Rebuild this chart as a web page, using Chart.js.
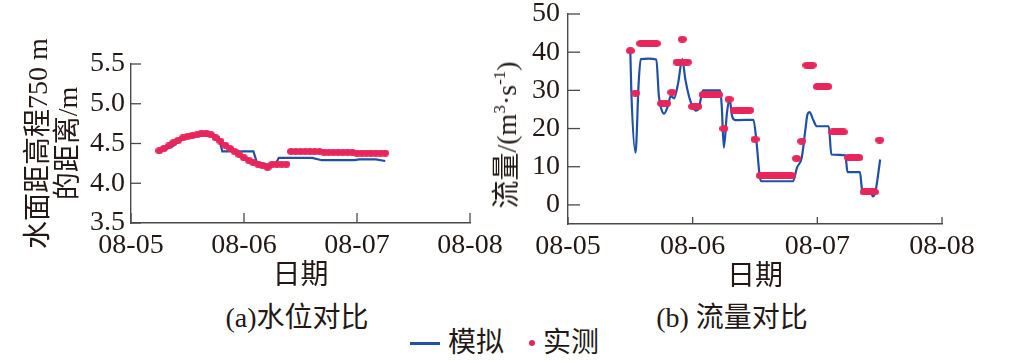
<!DOCTYPE html>
<html>
<head>
<meta charset="utf-8">
<script src="https://cdn.jsdelivr.net/npm/chart.js@4.4.1/dist/chart.umd.min.js"></script>
<style>
  html, body { margin: 0; padding: 0; background: #ffffff; }
  body { width: 1029px; height: 363px; position: relative; overflow: hidden; }
  canvas { position: absolute; top: 0; }
  #cLevel { left: 0; }
  #cFlow { left: 480px; }
  .txt { position: absolute; font-family: "Liberation Serif", "Noto Sans CJK SC", serif; font-size: 28px; color: #231815; white-space: nowrap; line-height: 1; }
  .ctr { transform: translate(-50%, -50%); }
  #flowTitle { left: 507px; top: 135px; transform: translate(-50%, -50%) rotate(-90deg); }
  #flowTitle sup { font-size: 17px; vertical-align: 11px; line-height: 0; }
  .legLine { position: absolute; left: 410px; top: 342px; width: 30px; height: 2.5px; background: #1f50a5; }
  .legDot { position: absolute; left: 529px; top: 340px; width: 6px; height: 6px; border-radius: 50%; background: #e8265c; }
</style>
</head>
<body>
<canvas id="cLevel" width="520" height="300"></canvas>
<canvas id="cFlow" width="549" height="300"></canvas>
<div class="txt" id="flowTitle">流量/(m<sup>3</sup>·s<sup>-1</sup>)</div>
<div class="txt ctr" style="left:297px; top:318px;">(a)水位对比</div>
<div class="txt ctr" style="left:732px; top:318px;">(b) 流量对比</div>
<div class="legLine"></div>
<div class="txt" style="left:448px; top:329px;">模拟</div>
<div class="legDot"></div>
<div class="txt" style="left:543px; top:329px;">实测</div>
<script>
// ---------- data ----------
const dateTickValues = [0, 1, 2, 3];                 // days after 08-05 00:00
const dateTickLabels = ['08-05', '08-06', '08-07', '08-08'];
const levelTicks = [3.5, 4.0, 4.5, 5.0, 5.5];
const flowTicks = [0, 10, 20, 30, 40, 50];

// (a) water level — hours after 08-05 00:00
const levelSimHours  = [6, 7.5, 9, 10, 11, 12, 13, 17.8, 18.6, 19.4, 26, 26.7, 28, 30.6, 31.4, 38.5, 40.5, 47.5, 48.5, 52, 54];
const levelSimValues = [4.42, 4.43, 4.47, 4.52, 4.56, 4.59, 4.60, 4.60, 4.58, 4.40, 4.40, 4.27, 4.24, 4.23, 4.32, 4.32, 4.29, 4.29, 4.30, 4.30, 4.28];
const levelObsHours  = [6, 7, 8, 9, 10, 11, 12, 13, 14, 15, 16, 17, 18, 19, 20, 21, 22, 23, 24, 25, 26, 27, 28, 29, 30, 31, 32, 33,
                        34, 35, 36, 37, 38, 39, 40, 41, 42, 43, 44, 45, 46, 47, 48, 49, 50, 51, 52, 53, 54];
const levelObsValues = [4.41, 4.44, 4.47, 4.51, 4.54, 4.57, 4.59, 4.60, 4.61, 4.63, 4.63, 4.61, 4.57, 4.53, 4.48, 4.44, 4.40, 4.36, 4.32, 4.29, 4.26, 4.24, 4.22, 4.20, 4.24, 4.24, 4.24, 4.24,
                        4.40, 4.40, 4.40, 4.40, 4.40, 4.40, 4.40, 4.39, 4.39, 4.39, 4.39, 4.39, 4.39, 4.39, 4.38, 4.38, 4.38, 4.38, 4.38, 4.38, 4.38];

// (b) discharge — hours after 08-05 00:00
const flowSimHours  = [12, 12.2, 13.0, 13.6, 14.0, 15.5, 17.0, 17.5, 18.0, 18.5, 19.2, 19.8, 20.4, 21.2, 22.0, 22.6, 23.3, 23.9, 24.6, 25.1,
                       25.6, 26.0, 29.3, 29.6, 30.0, 30.6, 31.1, 31.6, 32.2, 35.7, 36.3, 36.9, 37.2, 43.3, 44.1, 45.0, 45.7, 46.1, 46.5, 47.2,
                       47.9, 50.2, 50.7, 53.4, 53.8, 56.2, 56.6, 57.0, 58.2, 58.7, 59.2, 60.1];
const flowSimValues = [40.2, 29.3, 13.7, 31.9, 38.2, 38.3, 38.1, 28.4, 25.0, 23.9, 25.8, 28.6, 27.9, 31.9, 38.2, 32.8, 28.4, 26.0, 24.7, 25.0,
                       28.0, 30.0, 30.0, 25.8, 15.0, 24.1, 27.7, 23.2, 22.2, 22.3, 16.3, 7.6, 6.2, 6.2, 9.8, 12.4, 19.7, 23.7, 24.3, 22.3,
                       20.6, 20.6, 13.2, 13.0, 8.6, 8.6, 4.1, 3.4, 3.4, 2.2, 3.6, 11.9];
const flowObsHours  = [12, 13, 14, 14.5, 15, 15.5, 16, 16.5, 17, 18, 18.5, 19, 20, 21, 21.5, 22, 22.5, 23, 24, 24.5, 25,
                       26, 26.5, 27, 27.5, 28, 28.5, 29, 30, 31, 32, 32.5, 33, 33.5, 34, 34.5, 35, 36,
                       37, 37.5, 38, 38.5, 39, 39.5, 40, 40.5, 41, 41.5, 42, 42.5, 43, 44, 45, 46, 46.5, 47,
                       48, 48.5, 49, 49.5, 50, 51, 51.5, 52, 52.5, 53, 54, 54.5, 55, 55.5, 56, 57, 57.5, 58, 58.5, 59, 60];
const flowObsValues = [40.4, 29.3, 42.3, 42.3, 42.3, 42.3, 42.3, 42.3, 42.3, 26.6, 26.6, 26.6, 29.5, 37.4, 37.4, 43.4, 37.4, 37.4, 25.8, 25.8, 25.8,
                       28.9, 28.9, 28.9, 28.9, 28.9, 28.9, 28.9, 20.0, 27.7, 24.8, 24.8, 24.8, 24.8, 24.8, 24.8, 24.8, 17.2,
                       7.7, 7.7, 7.7, 7.7, 7.7, 7.7, 7.7, 7.7, 7.7, 7.7, 7.7, 7.7, 7.7, 12.2, 16.7, 36.6, 36.6, 36.6,
                       31.0, 31.0, 31.0, 31.0, 31.0, 19.1, 19.1, 19.1, 19.1, 19.1, 12.4, 12.4, 12.4, 12.4, 12.4, 3.4, 3.4, 3.4, 3.4, 3.4, 17.0];

// ---------- styling ----------
const SIM_COLOR = '#1f50a5';
const OBS_COLOR = '#e8265c';
const AXIS_COLOR = '#4a4a4a';
const TEXT_COLOR = '#231815';
const FONT_FAMILY = '"Liberation Serif", "Noto Sans CJK SC", serif';

function toPoints(hours, values) {
  return hours.map((h, i) => ({ x: h / 24, y: values[i] }));
}

// slightly flattened dot marker, as in the printed figure
function ellipseMarker(w, h) {
  const c = document.createElement('canvas');
  c.width = w; c.height = h;
  const g = c.getContext('2d');
  g.fillStyle = OBS_COLOR;
  g.beginPath();
  g.ellipse(w / 2, h / 2, w / 2, h / 2, 0, 0, Math.PI * 2);
  g.fill();
  return c;
}

const inwardTicks = {
  id: 'inwardTicks',
  afterDraw(chart, args, opts) {
    const { ctx, chartArea, scales } = chart;
    ctx.save();
    ctx.strokeStyle = AXIS_COLOR;
    ctx.lineWidth = 1.3;
    scales.x.ticks.forEach(t => {
      const px = scales.x.getPixelForValue(t.value);
      ctx.beginPath();
      ctx.moveTo(px, chartArea.bottom);
      ctx.lineTo(px, chartArea.bottom - opts.xLen);
      ctx.stroke();
    });
    scales.y.ticks.forEach(t => {
      const py = scales.y.getPixelForValue(t.value);
      ctx.beginPath();
      ctx.moveTo(chartArea.left, py);
      ctx.lineTo(chartArea.left + opts.yLen, py);
      ctx.stroke();
    });
    ctx.restore();
  }
};

function makeChart(canvasId, cfg) {
  return new Chart(document.getElementById(canvasId), {
    type: 'line',
    data: {
      datasets: [
        {
          label: '模拟', data: cfg.sim, borderColor: SIM_COLOR, borderWidth: 2.2,
          pointRadius: 0, fill: false, order: 1,
          tension: cfg.smooth ? 0.4 : 0, cubicInterpolationMode: cfg.smooth ? 'monotone' : 'default'
        },
        {
          label: '实测', data: cfg.obs, showLine: false, pointRadius: 4, pointBorderWidth: 0,
          pointStyle: cfg.marker,
          pointBackgroundColor: OBS_COLOR, pointBorderColor: OBS_COLOR, order: 0
        }
      ]
    },
    options: {
      responsive: false, animation: false, events: [],
      layout: { padding: cfg.padding },
      plugins: { legend: { display: false }, tooltip: { enabled: false }, inwardTicks: cfg.tickLens },
      scales: {
        x: {
          type: 'linear', min: 0, max: 3,
          grid: { display: false, drawTicks: false },
          border: { display: true, color: AXIS_COLOR, width: 1.4 },
          afterBuildTicks: s => { s.ticks = dateTickValues.map(v => ({ value: v })); },
          afterFit: s => { s.height = cfg.xHeight; s.paddingLeft = 0; s.paddingRight = 0; },
          ticks: {
            autoSkip: false, maxRotation: 0, padding: 6, color: TEXT_COLOR,
            font: { family: FONT_FAMILY, size: 28, lineHeight: 1.2 },
            callback: v => dateTickLabels[dateTickValues.indexOf(v)]
          },
          title: {
            display: true, text: '日期', color: TEXT_COLOR,
            font: { family: FONT_FAMILY, size: 28, lineHeight: 1.2 },
            padding: { top: 0, bottom: cfg.xTitlePad }
          }
        },
        y: {
          type: 'linear', min: cfg.yMin, max: cfg.yMax,
          grid: { display: false, drawTicks: false },
          border: { display: true, color: AXIS_COLOR, width: 1.4 },
          afterBuildTicks: s => { s.ticks = cfg.yTicks.map(v => ({ value: v })); },
          afterFit: s => { s.width = cfg.yWidth; s.paddingTop = 0; s.paddingBottom = 0; },
          ticks: {
            padding: cfg.yTickPad, color: TEXT_COLOR,
            font: { family: FONT_FAMILY, size: 28, lineHeight: 1 },
            callback: v => cfg.yFmt(v)
          },
          title: cfg.yTitle
        }
      }
    },
    plugins: [inwardTicks]
  });
}

makeChart('cLevel', {
  sim: toPoints(levelSimHours, levelSimValues),
  obs: toPoints(levelObsHours, levelObsValues),
  smooth: false,
  marker: ellipseMarker(8, 7),
  padding: { left: 0, right: 50, top: 64, bottom: 0 },
  xHeight: 77, xTitlePad: 7,
  yMin: 3.5, yMax: 5.5, yTicks: levelTicks, yWidth: 131, yTickPad: 6,
  yFmt: v => v.toFixed(1),
  tickLens: { xLen: 10, yLen: 10 },
  yTitle: {
    display: true, text: ['水面距高程750 m', '的距离/m'], color: TEXT_COLOR,
    font: { family: FONT_FAMILY, size: 28, lineHeight: 30 / 28 },
    padding: { top: 25, bottom: 0 }
  }
});

makeChart('cFlow', {
  sim: toPoints(flowSimHours, flowSimValues),
  obs: toPoints(flowObsHours, flowObsValues),
  smooth: true,
  marker: ellipseMarker(9, 7),
  padding: { left: 0, right: 87, top: 14, bottom: 0 },
  xHeight: 76, xTitlePad: 6,
  yMin: -5, yMax: 50, yTicks: flowTicks, yWidth: 88, yTickPad: 8,
  yFmt: v => String(v),
  tickLens: { xLen: 7, yLen: 12 },
  yTitle: { display: false }
});
</script>
</body>
</html>
